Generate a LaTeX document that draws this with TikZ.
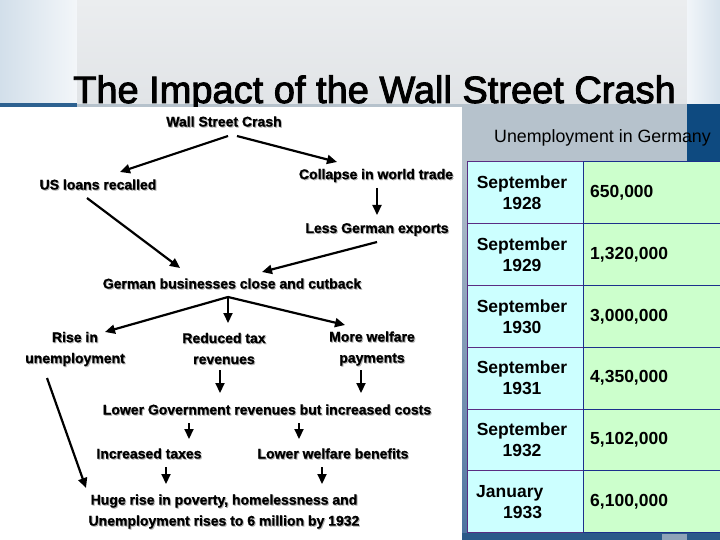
\documentclass[tikz,border=0pt]{standalone}
\usepackage{fontspec}
\setmainfont{Liberation Sans}
\newfontfamily\titlefont[FakeBold=2.5]{Liberation Sans}
\newfontfamily\flowfont[FakeBold=1]{Liberation Sans Bold}
\usetikzlibrary{arrows.meta}
\definecolor{bandgray}{HTML}{B6C2CC}
\definecolor{darkblue}{HTML}{0E4A80}
\definecolor{lineblue}{HTML}{2D6190}
\definecolor{cellcyan}{HTML}{CCFFFF}
\definecolor{cellgreen}{HTML}{CCFFCC}
\definecolor{gridpurple}{HTML}{5A2D82}
\definecolor{gridnavy}{HTML}{1C2F8C}
\definecolor{lstripA}{HTML}{D2DFEA}
\definecolor{lstripB}{HTML}{F3F6F9}
\definecolor{midtop}{HTML}{EBEDEF}
\definecolor{midbot}{HTML}{E1E4E7}
\definecolor{rstripA}{HTML}{F1F5F9}
\definecolor{rstripB}{HTML}{D6E2EC}
\definecolor{vstrip}{HTML}{4A72A0}
\definecolor{botblue}{HTML}{2B5A89}
\definecolor{botlight}{HTML}{8FA3B8}
\newcommand\shd[1]{\rlap{\kern1pt\raisebox{-1pt}{\textcolor{black!30}{#1}}}#1}
\tikzset{
  flow/.style={font=\flowfont\fontsize{14}{21}\selectfont, align=center, inner sep=0pt},
  arr/.style={line width=2.2pt, -{Triangle[length=10pt,width=9pt]}},
  cellL/.style={fill=cellcyan, draw=gridpurple, line width=1pt},
  cellR/.style={fill=cellgreen, draw=gridnavy, line width=1pt},
  datel/.style={font=\fontsize{17.5}{21}\selectfont\bfseries, align=center, inner sep=0pt},
  valr/.style={font=\fontsize{17.5}{21}\selectfont\bfseries, anchor=west, inner sep=0pt}
}
\begin{document}
\begin{tikzpicture}[x=1pt,y=-1pt]
\useasboundingbox (0,0) rectangle (720,540);
\fill[white] (0,0) rectangle (720,540);
% top background
\shade[left color=lstripA, right color=lstripB] (0,0) rectangle (77,104);
\shade[top color=midtop, bottom color=midbot] (77,0) rectangle (687,104);
\shade[left color=rstripA, right color=rstripB] (687,0) rectangle (720,104);
% band
\fill[bandgray] (77,104) rectangle (687,162);
\fill[darkblue] (687,104) rectangle (720,162);
\fill[lineblue] (0,103) rectangle (77,107);
% title
\node[anchor=base west, inner sep=0pt, font=\titlefont\fontsize{38}{40}\selectfont] (title) at (73,103) {The Impact of the Wall Street Crash};
% flowchart white area
\fill[white] (0,107.5) rectangle (462,540);
% right area
\fill[bandgray] (462,162) rectangle (720,540);
\shade[top color=bandgray, bottom color=vstrip] (462,162) rectangle (467,540);
\fill[botblue] (462,533) rectangle (720,540);
\fill[botlight] (662,534) rectangle (687,540);
% table
\foreach \i in {0,...,5}{
  \path[cellL] (467,{162+61.75*\i}) rectangle (583,{162+61.75*(\i+1)});
  \path[cellR] (583,{162+61.75*\i}) rectangle (722,{162+61.75*(\i+1)});
}
\node[font=\fontsize{17.8}{20}\selectfont, inner sep=0pt] (uig) at (602.5,138) {Unemployment in Germany};
\node[datel] (d1) at (522,192.9) {September\\1928};
\node[datel] (d2) at (522,254.6) {September\\1929};
\node[datel] (d3) at (522,316.4) {September\\1930};
\node[datel] (d4) at (522,378.1) {September\\1931};
\node[datel] (d5) at (522,439.9) {September\\1932};
\node[datel, anchor=west, align=left] (d6) at (476,501.6) {January\\\hspace*{27pt}1933};
\node[valr] (v1) at (590,192.9) {650,000};
\node[valr] (v2) at (590,254.6) {1,320,000};
\node[valr] (v3) at (590,316.4) {3,000,000};
\node[valr] (v4) at (590,378.1) {4,350,000};
\node[valr] (v5) at (590,439.9) {5,102,000};
\node[valr] (v6) at (590,501.6) {6,100,000};
% flowchart nodes
\node[flow] (wsc) at (224,122) {\shd{Wall Street Crash}};
\node[flow] (us) at (98,185) {\shd{US loans recalled}};
\node[flow] (col) at (376,176) {\shd{Collapse in world trade}};
\node[flow] (less) at (377,230) {\shd{Less German exports}};
\node[flow] (gbc) at (232,284) {\shd{German businesses close and cutback}};
\node[flow] (rise) at (75,349.5) {\shd{Rise in}\\\shd{unemployment}};
\node[flow] (red) at (224,349) {\shd{Reduced tax}\\\shd{revenues}};
\node[flow] (more) at (372,349) {\shd{More welfare}\\\shd{payments}};
\node[flow] (lgr) at (267,410) {\shd{Lower Government revenues but increased costs}};
\node[flow] (inc) at (149,454) {\shd{Increased taxes}};
\node[flow] (lwb) at (333,454) {\shd{Lower welfare benefits}};
\node[flow] (huge) at (224,512) {\shd{Huge rise in poverty, homelessness and}\\\shd{Unemployment rises to 6 million by 1932}};
% arrows
\draw[arr] ([shift={(4,14)}]wsc.center) -- ([shift={(22,-13)}]us.center);
\draw[arr] ([shift={(13,14)}]wsc.center) -- ([shift={(-39,-14)}]col.center);
\draw[arr] ([shift={(1,12)}]col.center) -- ([shift={(0,-15)}]less.center);
\draw[arr] ([shift={(-11,13)}]us.center) -- ([shift={(-52,-16)}]gbc.center);
\draw[arr] ([shift={(0,12)}]less.center) -- ([shift={(30,-12)}]gbc.center);
\draw[arr] ([shift={(-4,13)}]gbc.center) -- ([shift={(30,-17.5)}]rise.center);
\draw[arr] ([shift={(-4,13)}]gbc.center) -- ([shift={(4,-26)}]red.center);
\draw[arr] ([shift={(-4,13)}]gbc.center) -- ([shift={(-27,-24)}]more.center);
\draw[arr] ([shift={(-4,21)}]red.center) -- ([shift={(-47,-17)}]lgr.center);
\draw[arr] ([shift={(-11,21)}]more.center) -- ([shift={(94,-17)}]lgr.center);
\draw[arr] ([shift={(-78,13)}]lgr.center) -- ([shift={(40,-15)}]inc.center);
\draw[arr] ([shift={(32,13)}]lgr.center) -- ([shift={(-34,-15)}]lwb.center);
\draw[arr] ([shift={(17,13)}]inc.center) -- ([shift={(-58,-28)}]huge.center);
\draw[arr] ([shift={(-11,13)}]lwb.center) -- ([shift={(98,-28)}]huge.center);
\draw[arr] ([shift={(-28,28.5)}]rise.center) -- ([shift={(-138,-24)}]huge.center);
\end{tikzpicture}
\end{document}
